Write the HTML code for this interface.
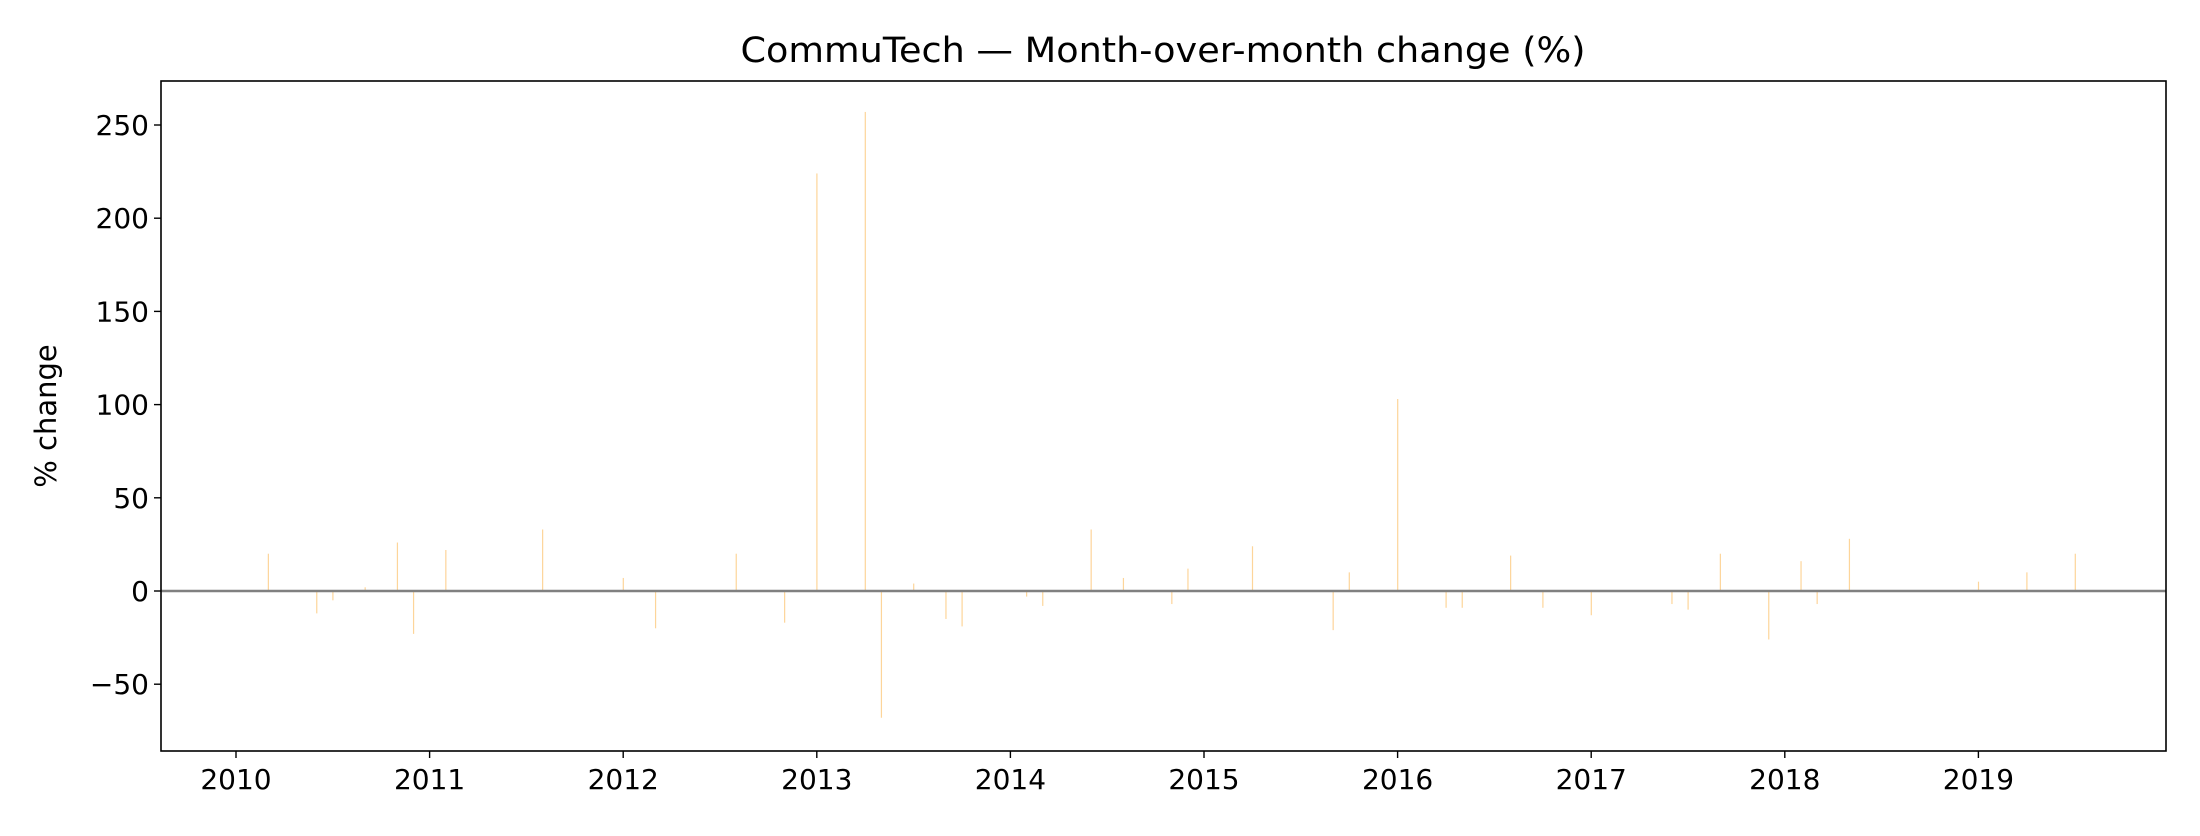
<!DOCTYPE html>
<html><head><meta charset="utf-8"><style>
html,body{margin:0;padding:0;background:#fff;}
svg{display:block;font-family:"DejaVu Sans","Liberation Sans",sans-serif;}
</style></head><body>
<svg id="chart" width="2200" height="836" viewBox="0 0 2200 836">
<rect x="0" y="0" width="2200" height="836" fill="#fff"/>
<text x="1163" y="62" font-size="35" text-anchor="middle" fill="#000" textLength="845" lengthAdjust="spacingAndGlyphs">CommuTech — Month-over-month change (%)</text>
<text transform="translate(56,416) rotate(-90)" font-size="29" text-anchor="middle" fill="#000">% change</text>
<g id="bars"></g>
<g id="axes"></g>
</svg>
<script>
const monthIndex = [2,5,6,8,10,11,13,19,24,26,31,34,36,39,40,42,44,45,49,50,53,55,58,59,63,68,69,72,75,76,79,81,84,89,90,92,95,97,98,100,108,111,114];
const pctChange = [20,-12,-5,2,26,-23,22,33,7,-20,20,-17,224,257,-68,4,-15,-19,-3,-8,33,7,-7,12,24,-21,10,103,-9,-9,19,-9,-13,-7,-10,20,-26,16,-7,28,5,10,20];
const yTicks = [-50,0,50,100,150,200,250];
const xTickYears = [2010,2011,2012,2013,2014,2015,2016,2017,2018,2019];

const L=161,R=2166,T=81,B=751;
const x0=236, pxPerYear=193.6;
const y0=591, pxPerUnit=1.864;
const X = yr => x0 + (yr-2010)*pxPerYear;
const Y = v => y0 - v*pxPerUnit;
const NS='http://www.w3.org/2000/svg';
function mk(tag, attrs, parent){const e=document.createElementNS(NS,tag);for(const k in attrs)e.setAttribute(k,attrs[k]);parent.appendChild(e);return e;}
const bars=document.getElementById('bars'), axes=document.getElementById('axes');

for(let i=0;i<monthIndex.length;i++){
  const x=X(2010+monthIndex[i]/12), v=pctChange[i];
  const r=mk('rect',{x:x-0.5,y:Math.min(Y(v),Y(0)),width:1.2,height:Math.abs(Y(v)-Y(0)),fill:'#fdd59a'},bars);
  
  
}
const zl=mk('line',{x1:L,x2:R,y1:Y(0),y2:Y(0),stroke:'#808080','stroke-width':2.5},axes);


const fr=mk('rect',{x:L,y:T,width:R-L,height:B-T,fill:'none',stroke:'#000','stroke-width':1.6},axes);


yTicks.forEach(v=>{
  const t=mk('line',{x1:L-7,x2:L,y1:Y(v),y2:Y(v),stroke:'#000','stroke-width':1.4},axes);
  
  
  const l=mk('text',{x:L-12,y:Y(v)+10,'font-size':28,'text-anchor':'end',fill:'#000'},axes);
  l.textContent=v<0?'\u2212'+Math.abs(v):String(v);
  
  
});
xTickYears.forEach(yr=>{
  const t=mk('line',{x1:X(yr),x2:X(yr),y1:B,y2:B+7,stroke:'#000','stroke-width':1.4},axes);
  
  
  const l=mk('text',{x:X(yr),y:B+38,'font-size':28,'text-anchor':'middle',fill:'#000'},axes);
  l.textContent=String(yr);
  
  
});
</script>
</body></html>
